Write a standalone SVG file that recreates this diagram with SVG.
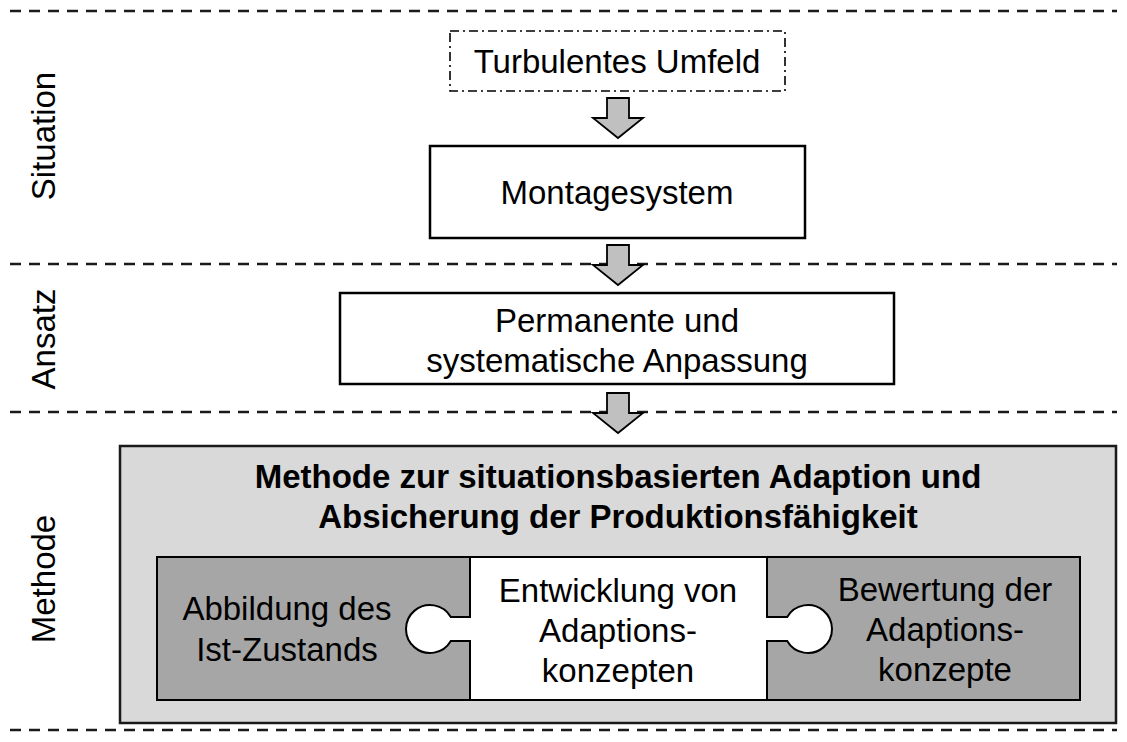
<svg xmlns="http://www.w3.org/2000/svg" width="1127" height="742" viewBox="0 0 1127 742">
  <style>
    .t { font-family: "Liberation Sans", Arial, sans-serif; font-size: 33px; fill: #000; text-anchor: middle; }
    .b { font-weight: bold; }
    .sep { stroke: #1a1a1a; stroke-width: 2.5; stroke-dasharray: 11 8; fill: none; }
    .box { fill: #fff; stroke: #000; stroke-width: 2.5; }
    .arrow { fill: #c0c0c0; stroke: #000; stroke-width: 1.8; stroke-linejoin: miter; }
    .piece { stroke: #000; stroke-width: 2; }
  </style>

  <!-- section separators -->
  <g id="separators">
    <line class="sep" x1="10" y1="11" x2="1117" y2="11"/>
    <line class="sep" x1="10" y1="264" x2="1117" y2="264"/>
    <line class="sep" x1="10" y1="412" x2="1117" y2="412"/>
    <line class="sep" x1="10" y1="730" x2="1117" y2="730"/>
  </g>

  <!-- section labels -->
  <g id="labels">
    <text class="t" transform="translate(55,136) rotate(-90)">Situation</text>
    <text class="t" transform="translate(55,339) rotate(-90)">Ansatz</text>
    <text class="t" transform="translate(55,579) rotate(-90)">Methode</text>
  </g>

  <g id="umfeld">
    <rect x="450" y="31" width="335" height="60" fill="#fff" stroke="#000" stroke-width="1.6" stroke-dasharray="9 4 2 4"/>
    <text class="t" x="617" y="73">Turbulentes Umfeld</text>
  </g>

  <g id="montagesystem">
    <rect class="box" x="430" y="146" width="375" height="92"/>
    <text class="t" x="617" y="204">Montagesystem</text>
  </g>

  <g id="anpassung">
    <rect class="box" x="340" y="293" width="554" height="91"/>
    <text class="t" x="617" y="332">Permanente und</text>
    <text class="t" x="617" y="372">systematische Anpassung</text>
  </g>

  <!-- block arrows between stages -->
  <g id="connectors">
    <path class="arrow" d="M607,98 H629 V118 H643 L618,138 L593,118 H607 Z"/>
    <path class="arrow" d="M607,245 H629 V265 H643 L618,285 L593,265 H607 Z"/>
    <path class="arrow" d="M607,393 H629 V413 H643 L618,433 L593,413 H607 Z"/>
  </g>

  <g id="methode">
    <rect x="120" y="446" width="996" height="277" fill="#d9d9d9" stroke="#1a1a1a" stroke-width="2.5"/>
    <text class="t b" x="618" y="488">Methode zur situationsbasierten Adaption und</text>
    <text class="t b" x="618" y="528">Absicherung der Produktionsfähigkeit</text>
  </g>

  <g id="abbildung">
    <rect class="piece" x="157" y="557" width="313" height="143" fill="#a6a6a6"/>
    <text class="t" x="287" y="620">Abbildung des</text>
    <text class="t" x="287" y="661">Ist-Zustands</text>
  </g>

  <g id="bewertung">
    <rect class="piece" x="767" y="557" width="313" height="143" fill="#a6a6a6"/>
    <text class="t" x="945" y="601">Bewertung der</text>
    <text class="t" x="945" y="641">Adaptions-</text>
    <text class="t" x="945" y="681">konzepte</text>
  </g>

  <g id="entwicklung">
    <path class="piece" fill="#fff" d="M470,557 H767 V617 H787.2 A24,24 0 1 1 787.2,641 H767 V700 H470 V641 H450.8 A24,24 0 1 1 450.8,617 H470 Z"/>
    <text class="t" x="618" y="602">Entwicklung von</text>
    <text class="t" x="618" y="642">Adaptions-</text>
    <text class="t" x="618" y="682">konzepten</text>
  </g>
</svg>
